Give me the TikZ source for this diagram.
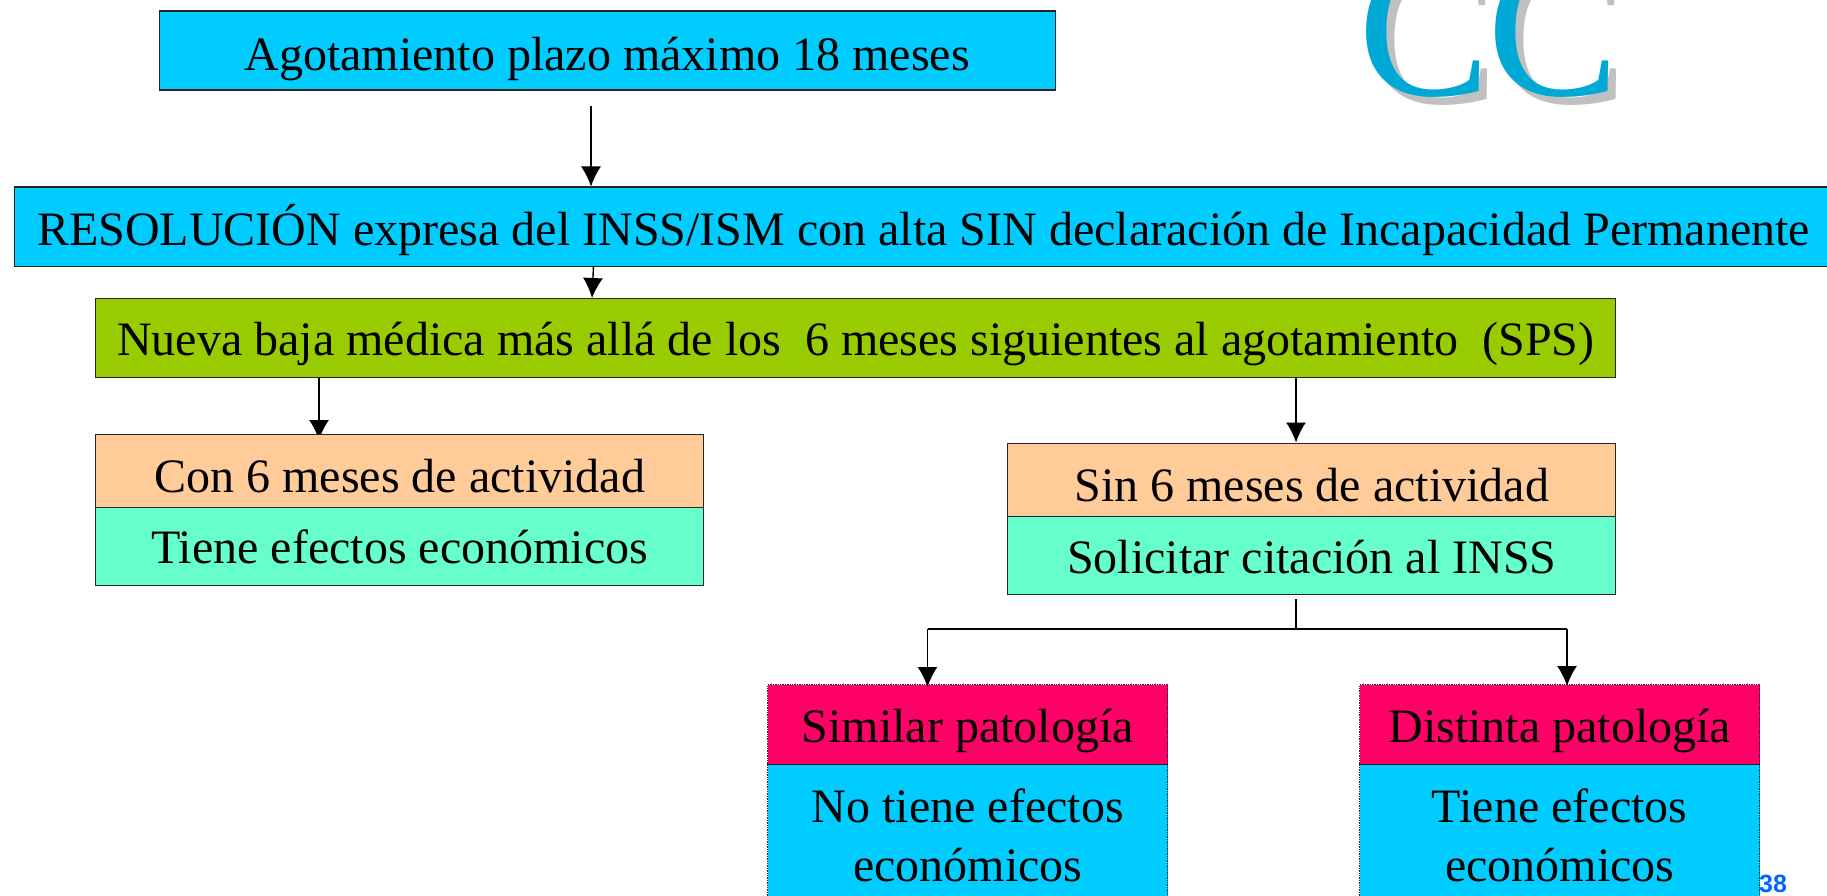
\documentclass[tikz,border=0pt]{standalone}
\usepackage{fontspec}
\setmainfont{Liberation Serif}
\newfontfamily\arialfont{Liberation Sans}
\usetikzlibrary{arrows.meta,backgrounds}
\definecolor{cyanbox}{HTML}{00CCFF}
\definecolor{greenbox}{HTML}{99CC00}
\definecolor{orangebox}{HTML}{FFCC99}
\definecolor{mintbox}{HTML}{66FFCC}
\definecolor{redbox}{HTML}{FF0066}
\definecolor{ccblue}{HTML}{00A8D6}
\definecolor{ccgray}{HTML}{C0C0C0}
\definecolor{pagenum}{HTML}{0066FF}
\newcommand{\tdown}[2]{\raisebox{-#1pt}[0pt][0pt]{#2}}
\tikzset{
  x=1pt,y=-1pt,
  solidbox/.style={draw=black!85,line width=1.4pt,anchor=north west,inner sep=0pt,align=center,
    font=\fontsize{48}{59}\selectfont},
  dotbox/.style={solidbox,densely dotted},
  conn/.style={draw=black,line width=1.4pt},
  arr/.style={conn,-{Latex[length=20pt,width=20pt]}},
  ccglyph/.style={inner sep=0pt,anchor=base west,font=\fontsize{198}{198}\selectfont}
}
\begin{document}
\begin{tikzpicture}
\useasboundingbox (0,0) rectangle (1827,896);
\clip (0,0) rectangle (1827,896);
% CC logo
\node[ccglyph,text=ccgray] (cs1) at (1366,104) {C};
\node[ccglyph,text=ccgray] (cs2) at (1495,104) {C};
\node[ccglyph,text=ccblue] (c1) at (1358,96) {C};
\node[ccglyph,text=ccblue] (c2) at (1487,96) {C};
% boxes
\node[solidbox,fill=cyanbox,minimum width=896pt,minimum height=79pt] (agot) at (158.5,10.5) {\tdown{20}{Agotamiento plazo máximo 18 meses}};
\node[solidbox,fill=cyanbox,minimum width=1830pt,minimum height=79pt] (resol) at (14,186.5) {\hspace*{-12pt}\tdown{19}{RESOLUCIÓN expresa del INSS/ISM con alta SIN declaración de Incapacidad Permanente}};
\node[solidbox,fill=greenbox,minimum width=1520pt,minimum height=79pt] (baja) at (95,298) {\tdown{17}{Nueva baja médica más allá de los\ \ 6 meses siguientes al agotamiento\ \ (SPS)}};
\node[solidbox,fill=orangebox,minimum width=608pt,minimum height=73.5pt] (con) at (95,433.5) {\tdown{21.5}{Con 6 meses de actividad}};
\node[solidbox,fill=mintbox,minimum width=608pt,minimum height=78pt] (tiene) at (95,507) {Tiene efectos económicos};
\node[solidbox,fill=orangebox,minimum width=608pt,minimum height=73.5pt] (sin) at (1007,442.5) {\tdown{21.5}{Sin 6 meses de actividad}};
\node[solidbox,fill=mintbox,minimum width=608pt,minimum height=78pt] (solic) at (1007,516) {\tdown{17.3}{Solicitar citación al INSS}};
\node[dotbox,fill=redbox,minimum width=400pt,minimum height=80pt] (simil) at (767,684) {\tdown{17.8}{Similar patología}};
\node[dotbox,fill=cyanbox,minimum width=400pt,minimum height=141pt] (noef) at (767,764) {No tiene efectos\\económicos};
\node[dotbox,fill=redbox,minimum width=400pt,minimum height=80pt] (dist) at (1359,684) {\tdown{17.8}{Distinta patología}};
\node[dotbox,fill=cyanbox,minimum width=400pt,minimum height=141pt] (sief) at (1359,764) {Tiene efectos\\económicos};
% page number
\node[inner sep=0pt,anchor=base west,text=pagenum,font=\arialfont\bfseries\fontsize{25}{25}\selectfont] (num) at (1759,892) {38};
% connectors
\coordinate (a0) at (591,106);
\coordinate (a1) at (591,186.5);
\draw[arr] (a0) -- (a1);
\coordinate (b0) at (593.5,266);
\coordinate (b1) at (592,298);
\draw[arr] (b0) -- (b1);
\coordinate (c0) at (319,377.5);
\coordinate (c1e) at (319,440);
\begin{scope}[on background layer]
\draw[arr] (c0) -- (c1e);
\end{scope}
\coordinate (d0) at (1296,377.5);
\coordinate (d1) at (1296,442.5);
\draw[arr] (d0) -- (d1);
\coordinate (e0) at (1296,599);
\coordinate (e1) at (1296,629);
\coordinate (fl) at (927.5,629);
\coordinate (fr) at (1567,629);
\coordinate (fle) at (927.5,687);
\coordinate (fre) at (1567,686);
\draw[conn] (e0) -- (e1);
\draw[conn] (fl) -- (fr);
\draw[arr] (fl) -- (fle);
\draw[arr] (fr) -- (fre);
\end{tikzpicture}
\end{document}
